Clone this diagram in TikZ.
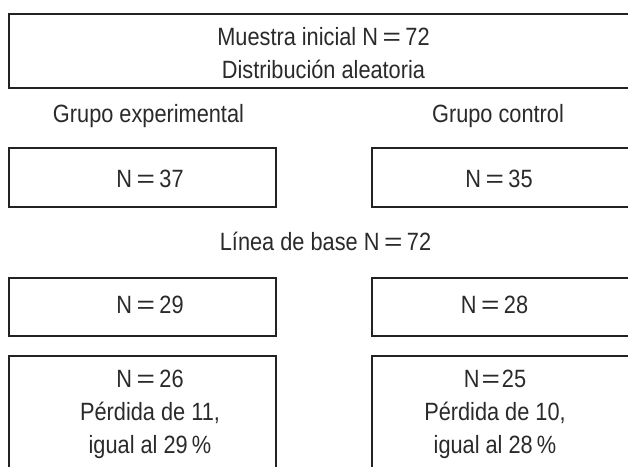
\documentclass[tikz,border=0pt]{standalone}
\usepackage{fontspec}
\setmainfont{Liberation Sans}[FakeStretch=0.87]
\usepackage{tikz}
\definecolor{boxline}{HTML}{222222}
\definecolor{boxtext}{HTML}{2a2a2a}
\newcommand{\eqsgn}[1][4.5pt]{\hspace{#1}\scalebox{1.45}[1]{=}\hspace{#1}}

\begin{document}
\begin{tikzpicture}[
    x=1pt, y=-1pt,
    box/.style={rectangle, draw=boxline, line width=2.4pt, inner sep=0pt, minimum width=267pt},
    txt/.style={inner sep=0pt, text=boxtext, align=center, font=\fontsize{25}{33}\selectfont}
]
    \useasboundingbox (0,0) rectangle (628,466);
    \clip (0,0) rectangle (628,466);

    % Initial sample
    \node[box, minimum width=630pt, minimum height=74pt] (muestra) at (324,51) {};
    \node[txt, anchor=north] (muestratxt) at (323.5,27) {Muestra inicial N\eqsgn 72\\Distribución aleatoria};

    % Groups
    \node[txt, anchor=base] (grupoexp) at (148.5,122) {Grupo experimental};
    \node[txt, anchor=base] (grupoctl) at (498,122) {Grupo control};

    % Assigned
    \node[box, minimum height=59pt] (exp37) at (142.5,177.5) {};
    \node[box, minimum height=59pt] (ctl35) at (505.5,177.5) {};
    \node[txt, anchor=base] (exp37txt) at (150,187) {N\eqsgn 37};
    \node[txt, anchor=base] (ctl35txt) at (499,187) {N\eqsgn 35};

    % Baseline
    \node[txt, anchor=base] (linea) at (325.5,250) {Línea de base N\eqsgn 72};

    \node[box, minimum height=58pt] (exp29) at (142.5,307) {};
    \node[box, minimum height=58pt] (ctl28) at (505.5,307) {};
    \node[txt, anchor=base] (exp29txt) at (150,313) {N\eqsgn 29};
    \node[txt, anchor=base] (ctl28txt) at (494.5,313) {N\eqsgn 28};

    % Final
    \node[box, minimum height=150pt] (exp26) at (142.5,431) {};
    \node[box, minimum height=150pt] (ctl25) at (505.5,431) {};
    \node[txt, anchor=north] (exp26txt) at (150,370) {N\eqsgn 26\\Pérdida de 11,\\igual al 29\,\%};
    \node[txt, anchor=north] (ctl25txt) at (495,370) {N\eqsgn[2pt]25\\Pérdida de 10,\\igual al 28\,\%};
\end{tikzpicture}
\end{document}
